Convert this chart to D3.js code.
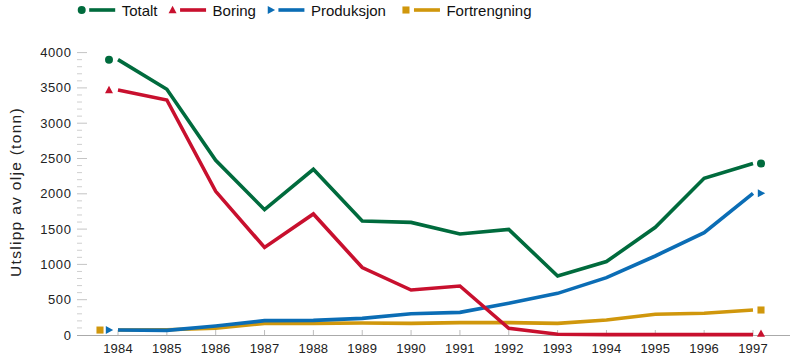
<!DOCTYPE html>
<html>
<head>
<meta charset="utf-8">
<script src="https://cdn.jsdelivr.net/npm/d3@7"></script>
<style>
  html, body { margin: 0; padding: 0; background: #fff; }
  svg { display: block; font-family: "Liberation Sans", Arial, Helvetica, sans-serif; }
</style>
</head>
<body>
<svg id="chart" width="800" height="356"></svg>
<script>
const years = [1984, 1985, 1986, 1987, 1988, 1989, 1990, 1991, 1992, 1993, 1994, 1995, 1996, 1997];
const totalt      = [3900, 3480, 2475, 1775, 2347, 1615, 1595, 1430, 1495, 836, 1040, 1525, 2219, 2430];
const boring      = [3470, 3329, 2035, 1240, 1714, 955, 637, 694, 95, 10, 5, 5, 5, 5];
const produksjon  = [70, 65, 127, 203, 207, 236, 300, 321, 449, 590, 812, 1119, 1449, 2007];
const fortrengning = [70, 75, 95, 165, 165, 170, 165, 175, 175, 165, 212, 293, 307, 354];
const yTicks = [0, 500, 1000, 1500, 2000, 2500, 3000, 3500, 4000];
const yLabel = "Utslipp av olje (tonn)";

const series = [
  { name: "Totalt", values: totalt, color: "#006b3d", marker: "circle" },
  { name: "Boring", values: boring, color: "#c8102e", marker: "triangle" },
  { name: "Produksjon", values: produksjon, color: "#0b6db5", marker: "triangleRight" },
  { name: "Fortrengning", values: fortrengning, color: "#d0970c", marker: "square" }
];
const drawOrder = ["Fortrengning", "Produksjon", "Boring", "Totalt"];

const svg = d3.select("#chart");
const x = d3.scaleLinear().domain([1984, 1997]).range([118, 753]);
const y = d3.scaleLinear().domain([0, 4000]).range([335, 52.6]);

function markerPath(type) {
  if (type === "circle") return d3.symbol(d3.symbolCircle, 50)();
  if (type === "square") return d3.symbol(d3.symbolSquare, 50)();
  return "M0,-4.2L4,3.2L-4,3.2Z";
}
function markerTransform(type, cx, cy) {
  return type === "triangleRight" ? `translate(${cx},${cy}) rotate(90)` : `translate(${cx},${cy})`;
}

// Y axis ticks (minor every 100, major every 500)
const minor = d3.range(0, 4001, 100).filter(v => v % 500 !== 0);
svg.append("g").selectAll("line").data(minor).join("line")
  .attr("x1", 77).attr("x2", 82)
  .attr("y1", d => y(d)).attr("y2", d => y(d))
  .attr("stroke", "#cfcfcf").attr("stroke-width", 1);
svg.append("g").selectAll("line").data(yTicks.filter(v => v > 0)).join("line")
  .attr("x1", 77).attr("x2", 87)
  .attr("y1", d => y(d)).attr("y2", d => y(d))
  .attr("stroke", "#c4c4c4").attr("stroke-width", 1);
svg.append("g").selectAll("text").data(yTicks).join("text")
  .attr("x", 71.5).attr("y", d => y(d)).attr("dy", "0.35em")
  .attr("text-anchor", "end")
  .attr("font-size", 13).attr("letter-spacing", "0.6px")
  .attr("fill", "#222")
  .text(d => d);

// X axis
svg.append("line").attr("x1", 77).attr("x2", 790).attr("y1", 335.5).attr("y2", 335.5)
  .attr("stroke", "#aaaaaa").attr("stroke-width", 1.2);
svg.append("g").selectAll("line").data(years).join("line")
  .attr("x1", d => x(d)).attr("x2", d => x(d))
  .attr("y1", 330).attr("y2", 335)
  .attr("stroke", "#bdbdbd").attr("stroke-width", 1);
svg.append("g").selectAll("text").data(years).join("text")
  .attr("x", d => x(d)).attr("y", 353)
  .attr("text-anchor", "middle")
  .attr("font-size", 13).attr("letter-spacing", "0.2px")
  .attr("fill", "#222")
  .text(d => d);

// Y label
svg.append("text")
  .attr("transform", "translate(21,192) rotate(-90)")
  .attr("text-anchor", "middle")
  .attr("font-size", 15.5).attr("letter-spacing", "1.3px")
  .attr("fill", "#222")
  .text(yLabel);

// Lines
const line = d3.line().x((d, i) => x(years[i])).y(d => y(d));
const ordered = drawOrder.map(n => series.find(s => s.name === n));
svg.append("g").selectAll("path").data(ordered).join("path")
  .attr("d", s => line(s.values))
  .attr("fill", "none")
  .attr("stroke", s => s.color)
  .attr("stroke-width", 3.6)
  .attr("stroke-linejoin", "miter");

// End markers
const gm = svg.append("g");
ordered.forEach(s => {
  const dxLeft = s.marker === "square" ? -18 : -9;
  gm.append("path").attr("d", markerPath(s.marker))
    .attr("transform", markerTransform(s.marker, x(years[0]) + dxLeft, y(s.values[0])))
    .attr("fill", s.color);
  const last = s.values.length - 1;
  gm.append("path").attr("d", markerPath(s.marker))
    .attr("transform", markerTransform(s.marker, x(years[last]) + 8, y(s.values[last]) - (s.marker === "triangle" ? 1 : 0)))
    .attr("fill", s.color);
});

// Legend
const lg = svg.append("g");
let lx = 81.7;
const ly = 10;
series.forEach((s, i) => {
  lg.append("path").attr("d", markerPath(s.marker))
    .attr("transform", markerTransform(s.marker, lx, ly))
    .attr("fill", s.color);
  const ls = lx + (s.marker === "square" ? 8 : 7.5);
  lg.append("line").attr("x1", ls).attr("x2", ls + 26)
    .attr("y1", ly).attr("y2", ly)
    .attr("stroke", s.color).attr("stroke-width", 3.6);
  const t = lg.append("text").attr("x", ls + 32.5).attr("y", 15.5)
    .attr("font-size", 15).attr("fill", "#111")
    .text(s.name);
  const w = t.node().getComputedTextLength();
  const next = series[i + 1];
  lx = ls + 32.5 + w + (next && next.marker === "square" ? 20 : 15);
});
</script>
</body>
</html>
